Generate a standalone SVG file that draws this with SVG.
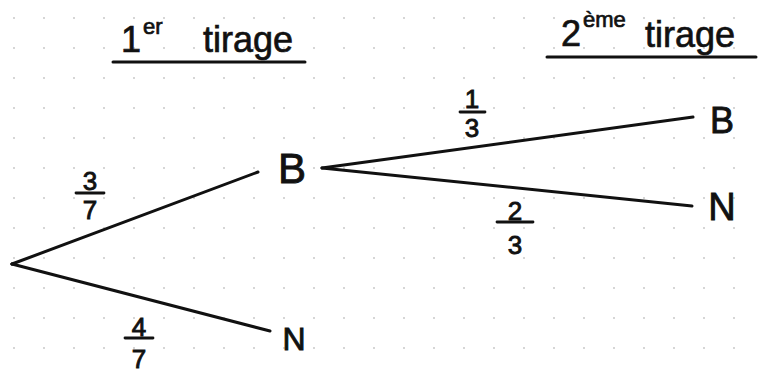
<svg xmlns="http://www.w3.org/2000/svg" width="758" height="374" viewBox="0 0 758 374">
<style>
.edge{stroke:#111;stroke-width:3;stroke-linecap:round;fill:none}
.bar{stroke:#111;stroke-width:2.8;stroke-linecap:round}
.ul{stroke:#111;stroke-width:3;stroke-linecap:round}
.node{font-family:"Liberation Sans","DejaVu Sans",sans-serif;fill:#111;stroke:#111;stroke-width:0.9;text-anchor:middle}
.frac{font-family:"Liberation Sans","DejaVu Sans",sans-serif;fill:#111;stroke:#111;stroke-width:0.9;text-anchor:middle;font-size:26px}
.hdr{font-family:"Liberation Sans","DejaVu Sans",sans-serif;fill:#111;stroke:#111;stroke-width:0.7}
</style>
<defs>
<pattern id="dots" x="14" y="18" width="30" height="30" patternUnits="userSpaceOnUse">
<circle cx="0" cy="0" r="1" fill="#c8c8c8"/>
<circle cx="30" cy="0" r="1" fill="#c8c8c8"/>
<circle cx="0" cy="30" r="1" fill="#c8c8c8"/>
<circle cx="30" cy="30" r="1" fill="#c8c8c8"/>
</pattern>
</defs>
<rect width="758" height="374" fill="#fff"/>
<rect width="758" height="374" fill="url(#dots)"/>

<g id="header1">
<text class="hdr" x="121" y="52" font-size="36">1</text>
<text class="hdr" x="143" y="34" font-size="22">er</text>
<text class="hdr" x="203" y="52" font-size="36">tirage</text>
<line class="ul" x1="113" y1="62" x2="305" y2="62"/>
</g>
<g id="header2">
<text class="hdr" x="561" y="46" font-size="36">2</text>
<text class="hdr" x="583" y="27" font-size="22">ème</text>
<text class="hdr" x="645" y="47" font-size="36">tirage</text>
<line class="ul" x1="547" y1="57" x2="756" y2="57"/>
</g>

<g id="connectors">
<line class="edge" x1="12" y1="264" x2="258" y2="172"/>
<line class="edge" x1="12" y1="264" x2="270" y2="331"/>
<line class="edge" x1="322" y1="168" x2="693" y2="117"/>
<line class="edge" x1="322" y1="168" x2="692" y2="206"/>
</g>

<g id="edge-labels">
<g id="p-3-7">
<text class="frac" x="90" y="190">3</text>
<line class="bar" x1="76" y1="193" x2="104" y2="193"/>
<text class="frac" x="90" y="219">7</text>
</g>
<g id="p-4-7">
<text class="frac" x="139" y="336">4</text>
<line class="bar" x1="125" y1="338" x2="153" y2="338"/>
<text class="frac" x="139" y="368">7</text>
</g>
<g id="p-1-3">
<text class="frac" x="472" y="108">1</text>
<line class="bar" x1="460" y1="112" x2="485" y2="112"/>
<text class="frac" x="472" y="137">3</text>
</g>
<g id="p-2-3">
<text class="frac" x="515" y="220">2</text>
<line class="bar" x1="497" y1="222" x2="533" y2="222"/>
<text class="frac" x="515" y="254">3</text>
</g>
</g>

<g id="root"><circle cx="12" cy="264" r="1.6" fill="#111"/></g>
<g id="node-B1"><text class="node" x="292" y="183" font-size="42">B</text></g>
<g id="node-N1"><text class="node" x="294" y="350" font-size="32">N</text></g>
<g id="node-B2"><text class="node" x="722" y="133" font-size="36">B</text></g>
<g id="node-N2"><text class="node" x="722" y="220" font-size="38">N</text></g>
</svg>
